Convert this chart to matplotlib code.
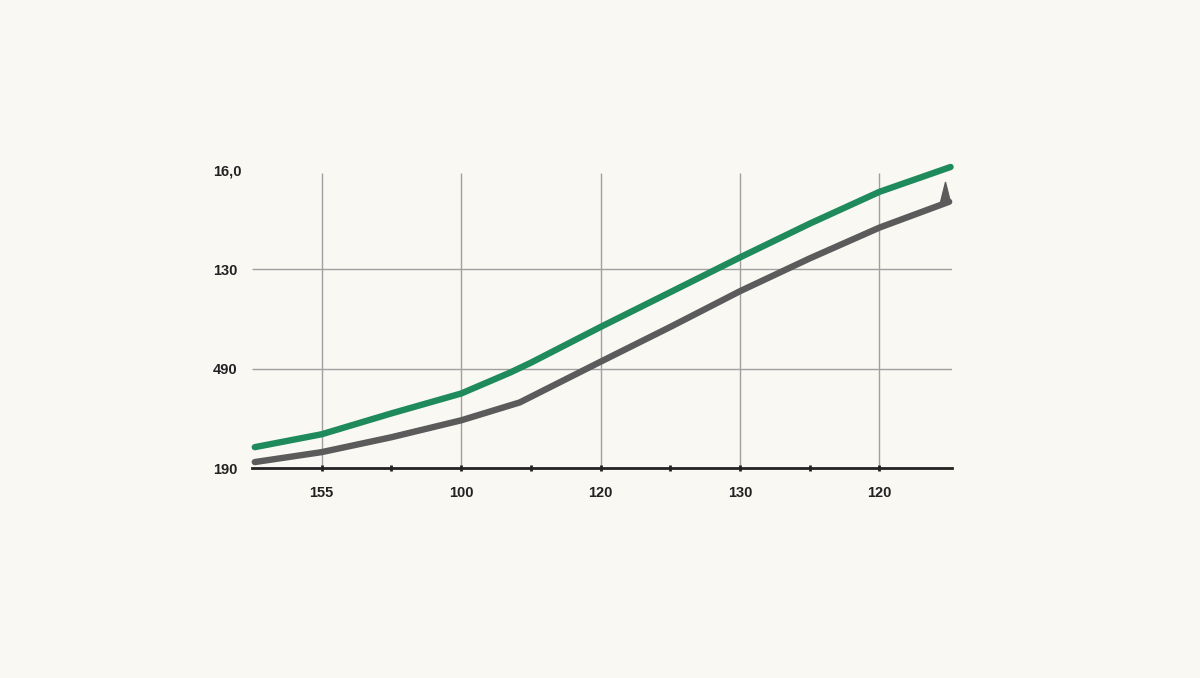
import matplotlib

matplotlib.use("Agg")

import matplotlib.pyplot as plt

plt.rcParams["font.family"] = ["Liberation Sans", "DejaVu Sans"]

BG = "#faf8f3"
GREEN = "#1f8a5c"
GREY = "#5b5b5b"

# posiciones en unidades de rejilla (0..4 = líneas verticales)
x_green = [-0.48, 0.0, 0.5, 1.0, 1.35, 1.5, 2.0, 2.5, 3.0, 3.5, 4.0, 4.51]
y_green = [0.21, 0.34, 0.55, 0.75, 0.96, 1.06, 1.42, 1.77, 2.12, 2.46, 2.78, 3.03]

x_grey = [-0.48, 0.0, 0.5, 1.0, 1.42, 2.0, 2.5, 3.0, 3.5, 4.0, 4.5]
y_grey = [0.06, 0.16, 0.31, 0.48, 0.66, 1.07, 1.42, 1.78, 2.11, 2.42, 2.68]

x_ticks = [0, 1, 2, 3, 4]
x_labels = ["155", "100", "120", "130", "120"]
y_ticks = [0, 1, 2, 3]
y_labels = ["190", "490", "130", "16,0"]

fig = plt.figure(figsize=(12, 6.78), dpi=100, facecolor=BG)
ax = fig.add_axes([0.21, 0.3097, 0.5833, 0.4396])
ax.set_facecolor(BG)
ax.set_xlim(-0.5, 4.52)
ax.set_ylim(0, 3)

# rejilla: verticales en cada tick, horizontales solo en 1 y 2
ax.vlines(x_ticks, 0, 2.97, color="#a0a0a0", lw=1.0, zorder=1)
ax.hlines([1, 2], -0.5, 4.52, color="#a0a0a0", lw=1.0, zorder=1)

ax.plot(x_grey, y_grey, color=GREY, lw=4.6, solid_capstyle="round",
        solid_joinstyle="round", zorder=3, clip_on=False)
ax.plot(x_green, y_green, color=GREEN, lw=4.6, solid_capstyle="round",
        solid_joinstyle="round", zorder=4, clip_on=False)
# pequeño pico al final de la línea gris
ax.plot(x_grey[-1] - 0.03, y_grey[-1], marker=[(-0.25, 0), (0, 1), (0.25, 0)],
        markersize=29, color=GREY, zorder=3, clip_on=False)

for side in ["top", "right", "left"]:
    ax.spines[side].set_visible(False)
ax.spines["bottom"].set_color("#222222")
ax.spines["bottom"].set_linewidth(2)

ax.set_xticks(x_ticks)
ax.set_xticklabels(x_labels)
ax.set_xticks([0.5, 1.5, 2.5, 3.5], minor=True)
ax.tick_params(axis="x", which="both", direction="inout", length=4, width=2,
               color="#222222", pad=11, labelsize=10.5, labelcolor="#222222")

ax.set_yticks(y_ticks)
ax.set_yticklabels(y_labels)
ax.tick_params(axis="y", length=0, pad=28, labelsize=10.5, labelcolor="#222222")
for lab in ax.get_yticklabels() + ax.get_xticklabels():
    lab.set_fontweight("bold")
for lab in ax.get_yticklabels():
    lab.set_horizontalalignment("left")

fig.savefig("out.png", dpi=100, facecolor=BG)
